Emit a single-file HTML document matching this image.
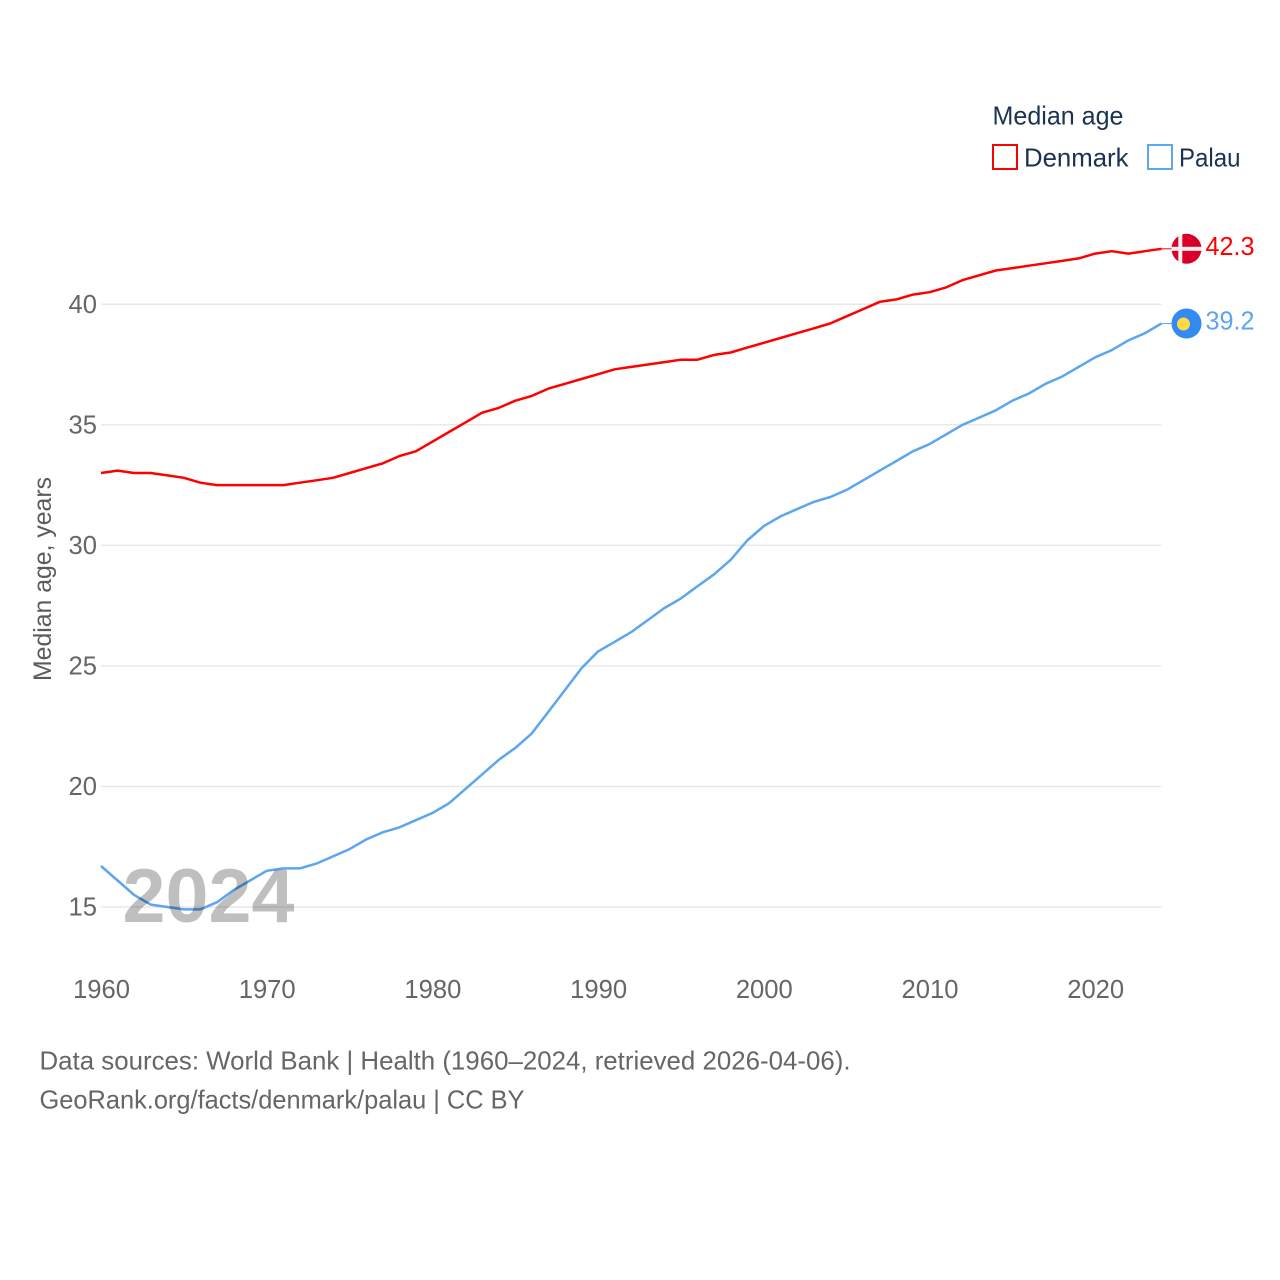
<!DOCTYPE html>
<html>
<head>
<meta charset="utf-8">
<title>Median age: Denmark and Palau</title>
<style>
html,body{margin:0;padding:0;background:#fff;}
svg{display:block;font-family:"Liberation Sans",sans-serif;}
</style>
</head>
<body>
<svg id="chart" width="1280" height="1280" viewBox="0 0 1280 1280" xmlns="http://www.w3.org/2000/svg">
  <g id="grid"></g>
  <g id="yticks"></g>
  <g id="xticks"></g>
  <text transform="translate(51,681) rotate(-90)" font-size="25" fill="#5b5b5b" textLength="204" lengthAdjust="spacingAndGlyphs">Median age, years</text>
  <g id="series"></g>
  <text x="122.5" y="922" font-size="76" font-weight="bold" fill="#000" fill-opacity="0.25" textLength="172" lengthAdjust="spacingAndGlyphs">2024</text>

  <g>
    <text x="992.5" y="124.5" font-size="26" fill="#1b3252" textLength="131" lengthAdjust="spacingAndGlyphs">Median age</text>
    <g>
      <rect x="993" y="145" width="24" height="24" fill="#fff" stroke="#ff0000" stroke-width="2"/>
      <text x="1024" y="166.5" font-size="26" fill="#1b3252" textLength="104.5" lengthAdjust="spacingAndGlyphs">Denmark</text>
    </g>
    <g>
      <rect x="1148" y="145" width="24" height="24" fill="#fff" stroke="#5ba6ee" stroke-width="2"/>
      <text x="1179" y="166.5" font-size="26" fill="#1b3252" textLength="61.5" lengthAdjust="spacingAndGlyphs">Palau</text>
    </g>
  </g>

  <g id="endpoints"></g>

  <text x="39.5" y="1069.5" font-size="26" fill="#666" textLength="811" lengthAdjust="spacingAndGlyphs">Data sources: World Bank | Health (1960–2024, retrieved 2026-04-06).</text>
  <text x="39.5" y="1108.5" font-size="26" fill="#666" textLength="485" lengthAdjust="spacingAndGlyphs">GeoRank.org/facts/denmark/palau | CC BY</text>
</svg>
<script>
const startYear = 1960;
const xTickLabels = [1960, 1970, 1980, 1990, 2000, 2010, 2020];
const yTickLabels = [15, 20, 25, 30, 35, 40];
const denmarkValues = [33.0,33.1,33.0,33.0,32.9,32.8,32.6,32.5,32.5,32.5,32.5,32.5,32.6,32.7,32.8,33.0,33.2,33.4,33.7,33.9,34.3,34.7,35.1,35.5,35.7,36.0,36.2,36.5,36.7,36.9,37.1,37.3,37.4,37.5,37.6,37.7,37.7,37.9,38.0,38.2,38.4,38.6,38.8,39.0,39.2,39.5,39.8,40.1,40.2,40.4,40.5,40.7,41.0,41.2,41.4,41.5,41.6,41.7,41.8,41.9,42.1,42.2,42.1,42.2,42.3];
const palauValues = [16.7,16.1,15.5,15.1,15.0,14.9,14.9,15.2,15.7,16.1,16.5,16.6,16.6,16.8,17.1,17.4,17.8,18.1,18.3,18.6,18.9,19.3,19.9,20.5,21.1,21.6,22.2,23.1,24.0,24.9,25.6,26.0,26.4,26.9,27.4,27.8,28.3,28.8,29.4,30.2,30.8,31.2,31.5,31.8,32.0,32.3,32.7,33.1,33.5,33.9,34.2,34.6,35.0,35.3,35.6,36.0,36.3,36.7,37.0,37.4,37.8,38.1,38.5,38.8,39.2];

const NS = 'http://www.w3.org/2000/svg';
const xScale = function (year) { return 101 + (year - 1960) * 16.57; };
const yScale = function (v) { return 907 - (v - 15) * 24.11; };
const make = function (tag, attrs, parent, text) {
  const el = document.createElementNS(NS, tag);
  Object.keys(attrs).forEach(function (k) { el.setAttribute(k, attrs[k]); });
  if (text !== undefined) el.textContent = text;
  parent.appendChild(el);
  return el;
};

const gridG = document.getElementById('grid');
const yG = document.getElementById('yticks');
const xG = document.getElementById('xticks');
const seriesG = document.getElementById('series');
const endG = document.getElementById('endpoints');
const lastYear = startYear + denmarkValues.length - 1;

yTickLabels.forEach(function (v) {
  const line = make('line', {x1: 101, x2: xScale(lastYear), y1: yScale(v), y2: yScale(v), stroke: '#e9e9e9', 'stroke-width': 1.5}, gridG);
  
  
  const label = make('text', {x: 97, y: yScale(v) + 8.5, 'text-anchor': 'end', 'font-size': 25.6, fill: '#666'}, yG, String(v));
  
  
});

xTickLabels.forEach(function (year) {
  const label = make('text', {x: xScale(year) + 0.5, y: 998, 'text-anchor': 'middle', 'font-size': 25.6, fill: '#666'}, xG, String(year));
  
  
});

const linePoints = function (values) {
  return values.map(function (v, i) { return xScale(startYear + i).toFixed(1) + ',' + yScale(v).toFixed(1); }).join(' ');
};

const denmarkLine = make('polyline', {points: linePoints(denmarkValues), fill: 'none', stroke: '#ff0000', 'stroke-width': 2.5, 'stroke-linejoin': 'round'}, seriesG);


const palauLine = make('polyline', {points: linePoints(palauValues), fill: 'none', stroke: '#5ba6ee', 'stroke-width': 2.5, 'stroke-linejoin': 'round'}, seriesG);



const dv = denmarkValues[denmarkValues.length - 1];
const pv = palauValues[palauValues.length - 1];
const xEnd = xScale(lastYear);
const dy = yScale(dv);
const py = yScale(pv);

const dConn = make('line', {x1: xEnd, x2: xEnd + 11, y1: dy, y2: dy, stroke: '#ff0000', 'stroke-width': 1}, endG);


const pConn = make('line', {x1: xEnd, x2: xEnd + 11, y1: py, y2: py, stroke: '#5ba6ee', 'stroke-width': 1}, endG);



const dFlag = make('circle', {cx: 1186.5, cy: dy, r: 15, fill: '#d80027'}, endG);


const dBar1 = make('rect', {x: 1178.3, y: dy - 14.5, width: 4, height: 29, fill: '#f0f0f0'}, endG);


const dBar2 = make('rect', {x: 1171.5, y: dy - 2, width: 30, height: 4, fill: '#f0f0f0'}, endG);



const pFlag = make('circle', {cx: 1186.5, cy: py, r: 15, fill: '#338af3'}, endG);


const pDot = make('circle', {cx: 1183.5, cy: py + 0.5, r: 6.5, fill: '#ffda44'}, endG);



const dLabel = make('text', {x: 1205.5, y: dy + 6, 'font-size': 25.6, fill: '#ff0000', textLength: 49, lengthAdjust: 'spacingAndGlyphs'}, endG, dv.toFixed(1));


const pLabel = make('text', {x: 1205.5, y: py + 6, 'font-size': 25.6, fill: '#5ba6ee', textLength: 49, lengthAdjust: 'spacingAndGlyphs'}, endG, pv.toFixed(1));


</script>
</body>
</html>
